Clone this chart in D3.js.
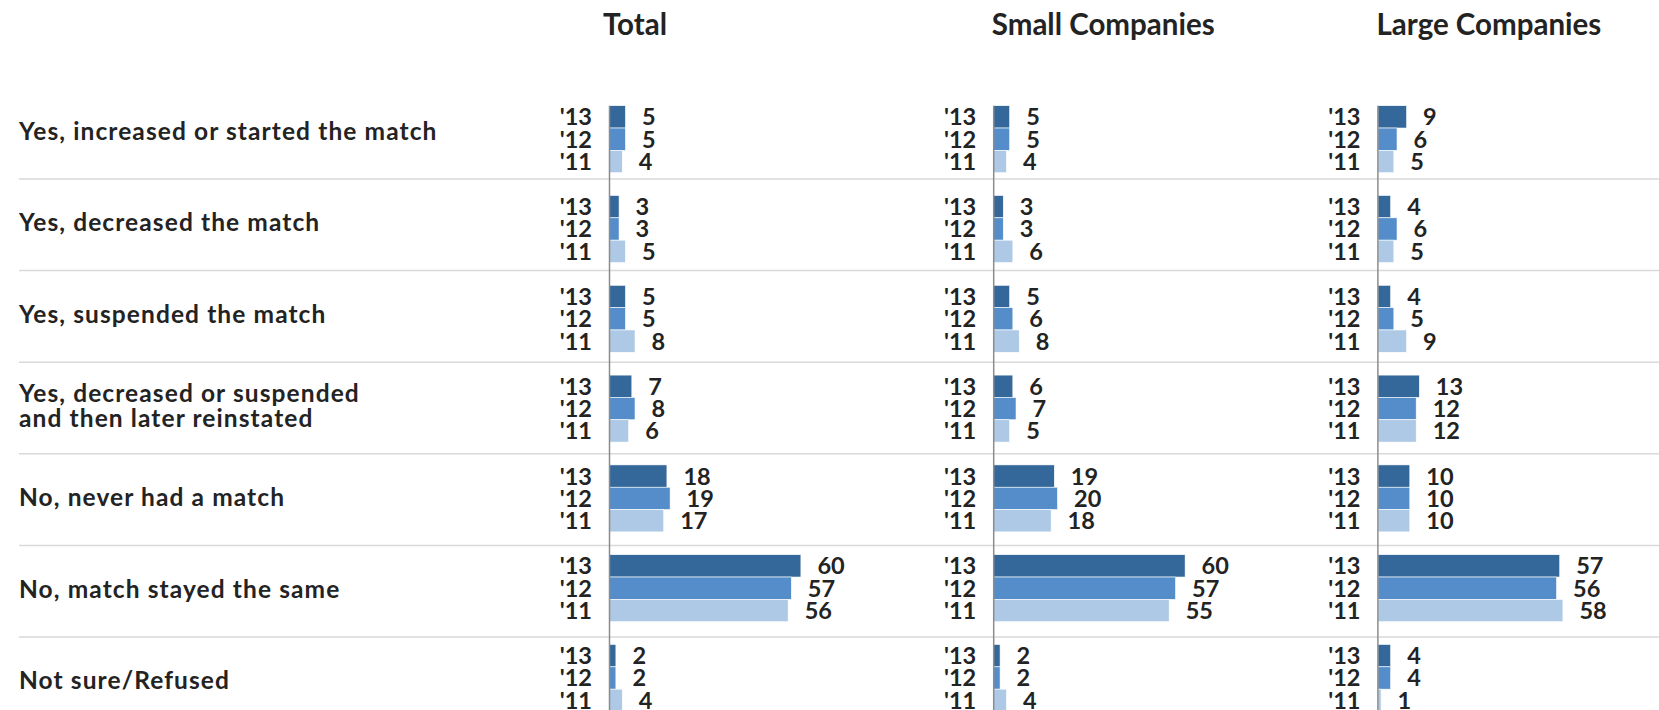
<!DOCTYPE html>
<meta charset="utf-8">
<style>
body {
  margin: 0;
  background: #fff;
}
svg text {
  font-family: Lato, "Open Sans", sans-serif;
  font-weight: bold;
  fill: #232323;
}
.sep {
  stroke: #d9d9d9;
  stroke-width: 1.5px;
}
.axis-line {
  stroke: #8c8c8c;
  stroke-width: 1.5px;
}
</style>
<body>
<div id="chart"></div>
<script src="https://d3js.org/d3.v7.min.js"></script>
<script>

var categories = [
  ["Yes, increased or started the match"],
  ["Yes, decreased the match"],
  ["Yes, suspended the match"],
  ["Yes, decreased or suspended", "and then later reinstated"],
  ["No, never had a match"],
  ["No, match stayed the same"],
  ["Not sure/Refused"]
];

var years = ["'13", "'12", "'11"];

var panels = ["Total", "Small Companies", "Large Companies"];

// one row per category, values in order '13, '12, '11
var totalValues = [[5, 5, 4], [3, 3, 5], [5, 5, 8], [7, 8, 6], [18, 19, 17], [60, 57, 56], [2, 2, 4]];
var smallValues = [[5, 5, 4], [3, 3, 6], [5, 6, 8], [6, 7, 5], [19, 20, 18], [60, 57, 55], [2, 2, 4]];
var largeValues = [[9, 6, 5], [4, 6, 5], [4, 5, 9], [13, 12, 12], [10, 10, 10], [57, 56, 58], [4, 4, 1]];

var yearColors = ["#34679a", "#548dc9", "#adc9e5"];

var width = 1659, height = 710;

var svg = d3.select("#chart").append("svg")
    .attr("width", width)
    .attr("height", height);

var rowIdx = d3.range(categories.length);

// bar groups
var y = d3.scaleBand()
    .domain(rowIdx)
    .range([105.7, 105.7 + 89.8 * (categories.length - 0.254)])
    .paddingInner(0.254)
    .paddingOuter(0);

var yYear = d3.scaleBand()
    .domain(years)
    .range([0, y.bandwidth()]);

// separator rows
var sepY = d3.scaleLinear()
    .domain([0, 1])
    .range([87.4, 179]);

var panelX = d3.scaleLinear()
    .domain([0, 1])
    .range([609.5, 993.7]);

var x = d3.scaleLinear()
    .domain([0, 100])
    .range([0, 319]);

var titleOffsets = [25.5, 109.5, 111];

// separators
svg.selectAll(".sep")
    .data(d3.range(1, categories.length + 1))
  .enter().append("line")
    .attr("class", "sep")
    .attr("x1", 19)
    .attr("x2", width)
    .attr("y1", function(d) { return sepY(d); })
    .attr("y2", function(d) { return sepY(d); });

// category labels
var catLabels = svg.selectAll(".cat")
    .data(categories)
  .enter().append("text")
    .attr("class", "cat")
    .attr("x", 19)
    .attr("y", function(d, i) { return (sepY(i) + sepY(i + 1)) / 2 - 2; })
    .style("font-size", "24.5px")
    .style("letter-spacing", "1.1px");

catLabels.selectAll("tspan")
    .data(function(d) { return d; })
  .enter().append("tspan")
    .attr("x", 19)
    .attr("dy", function(d, j, nodes) {
      var n = nodes.length;
      return j === 0 ? (0.35 - (n - 1) * 0.5) + "em" : "1em";
    })
    .text(function(d) { return d; });

var panelData = [totalValues, smallValues, largeValues];

panelData.forEach(function(values, p) {
  var g = svg.append("g")
      .attr("transform", "translate(" + panelX(p) + ",0)");

  g.append("text")
      .attr("x", titleOffsets[p])
      .attr("y", 35)
      .attr("text-anchor", "middle")
      .style("font-size", "29.5px")
      .text(panels[p]);

  var rows = g.selectAll(".row")
      .data(values)
    .enter().append("g")
      .attr("class", "row")
      .attr("transform", function(d, i) { return "translate(0," + y(i) + ")"; });

  rows.selectAll("rect")
      .data(function(d) { return d; })
    .enter().append("rect")
      .attr("x", 0)
      .attr("y", function(d, j) { return yYear(years[j]); })
      .attr("width", function(d) { return x(d); })
      .attr("height", yYear.bandwidth())
      .style("fill", function(d, j) { return yearColors[j]; })
      .style("stroke", "#fff")
      .style("stroke-width", 0.6);

  rows.selectAll(".yr")
      .data(years)
    .enter().append("text")
      .attr("class", "yr")
      .attr("x", -17.5)
      .attr("y", function(d) { return yYear(d) + yYear.bandwidth() / 2; })
      .attr("dy", "0.36em")
      .attr("text-anchor", "end")
      .style("font-size", "23.5px")
      .text(function(d) { return d; });

  rows.selectAll(".val")
      .data(function(d) { return d; })
    .enter().append("text")
      .attr("class", "val")
      .attr("x", function(d) { return x(d) + 16.5; })
      .attr("y", function(d, j) { return yYear(years[j]) + yYear.bandwidth() / 2; })
      .attr("dy", "0.36em")
      .style("font-size", "23.5px")
      .text(function(d) { return d; });

  g.append("line")
      .attr("class", "axis-line")
      .attr("x1", 0)
      .attr("x2", 0)
      .attr("y1", y(0))
      .attr("y2", height);
});

</script>
</body>
